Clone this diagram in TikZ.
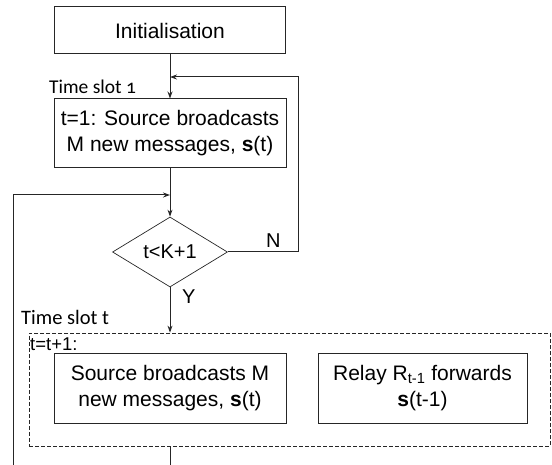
\documentclass[tikz,border=0pt]{standalone}
\usepackage{fontspec}
\setmainfont{Liberation Sans}
\newfontfamily\calib[Numbers=OldStyle]{Carlito}
\usetikzlibrary{shapes.geometric,arrows.meta}
\tikzset{
  boite/.style={draw=black!85,line width=1pt,inner sep=0pt,align=center,font=\fontsize{21}{26}\selectfont},
  fleche/.style={->,>={Stealth[length=7pt,width=5pt]},draw=black!85,line width=1pt},
  trait/.style={draw=black!85,line width=1pt},
  etiquette/.style={inner sep=0pt,anchor=base west},
}
\begin{document}
\begin{tikzpicture}[x=1pt,y=-1pt]
   \useasboundingbox (0,0) rectangle (552,465);

   % Dessine les boites
   \node[boite,minimum width=231pt,minimum height=47pt] (init) at (170,30.5) {Initialisation};
   \node[boite,minimum width=232pt,minimum height=69pt] (bloc1) at (170,133.5) {t=1: Source broadcasts\\M new messages, \textbf{s}(t)};
   \node[boite,diamond,aspect=1.64,minimum width=115pt,minimum height=70pt,line width=0.7pt,font=\fontsize{20}{24}\selectfont] (test) at (170,252) {t<K+1};

   % Dessine le bloc en pointillés
   \node[draw=black!85,dash pattern=on 4pt off 2pt,line width=0.8pt,minimum width=521pt,minimum height=113pt] (slot) at (289.5,389.5) {};
   \node[boite,minimum width=232pt,minimum height=70pt] (source) at (170,388) {Source broadcasts M\\new messages, \textbf{s}(t)};
   \node[boite,minimum width=209pt,minimum height=70pt] (relais) at (422.5,388) {Relay R\textsubscript{t-1} forwards\\\textbf{s}(t-1)};

   % Dessine les textes
   \node[etiquette,font=\calib\fontsize{19.5}{22}\selectfont] (ts1) at (49,94) {Time slot 1};
   \node[etiquette,font=\calib\fontsize{20.5}{24}\selectfont] (tst) at (21,324) {Time slot t};
   \node[etiquette,font=\fontsize{18.5}{22}\selectfont] (incr) at (30,350) {t=t+1:};
   \node[etiquette,font=\fontsize{20}{24}\selectfont] (non) at (266,248) {N};
   \node[etiquette,font=\fontsize{20}{24}\selectfont] (oui) at (182,304) {Y};

   % Dessine les flèches
   \coordinate (nord) at (298,77);
   \coordinate (jonction) at (170,77);
   \coordinate (retour) at (170,195);
   \coordinate (bas) at (13,465);
   \coordinate (sortie) at (170,465);
   \draw[fleche] (init) -- (bloc1);
   \draw[fleche] (test.east) -| (nord) -- (jonction);
   \draw[fleche] (bloc1) -- (test);
   \draw[fleche] (bas) |- (retour);
   \draw[fleche] (test.south) -- (test.south |- slot.north);
   \draw[trait] (slot.south -| sortie) -- (sortie);

\end{tikzpicture}
\end{document}
